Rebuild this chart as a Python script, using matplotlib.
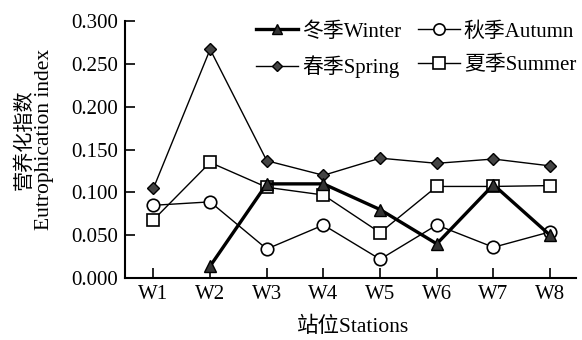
import numpy as np
import matplotlib
matplotlib.use('Agg')
import matplotlib.pyplot as plt

plt.rcParams['font.family'] = ['Liberation Serif', 'Noto Sans CJK SC']

# stations and eutrophication index per season
stations = ['W1', 'W2', 'W3', 'W4', 'W5', 'W6', 'W7', 'W8']
winter = [np.nan, 0.014, 0.110, 0.110, 0.080, 0.040, 0.109, 0.050]
autumn = [0.085, 0.089, 0.034, 0.062, 0.022, 0.062, 0.036, 0.054]
spring = [0.105, 0.267, 0.137, 0.120, 0.140, 0.134, 0.139, 0.131]
summer = [0.068, 0.135, 0.106, 0.097, 0.053, 0.107, 0.107, 0.108]

x = np.arange(1, len(stations) + 1)

fig = plt.figure(figsize=(5.82, 3.40), dpi=100)
ax = fig.add_axes([0.215, 0.182, 0.775, 0.756])

l1, = ax.plot(x, winter, color='black', lw=2.4, marker='^', ms=8,
              mfc='#333333', mec='black', label='冬季Winter', zorder=4)
l3, = ax.plot(x, autumn, color='black', lw=1.0, marker='o', ms=9,
              mfc='white', mec='black', mew=1.2, label='秋季Autumn', zorder=3)
l2, = ax.plot(x, spring, color='black', lw=1.0, marker='D', ms=6,
              mfc='#444444', mec='black', label='春季Spring', zorder=3)
l4, = ax.plot(x, summer, color='black', lw=1.0, marker='s', ms=9,
              mfc='white', mec='black', mew=1.2, label='夏季Summer', zorder=3)

ax.set_xlim(0.5, 8.46)
ax.set_ylim(0, 0.3)
ax.set_xticks(x)
ax.set_xticklabels(stations)
ax.set_yticks(np.arange(0, 0.301, 0.05))
ax.set_yticklabels(['%.3f' % v for v in np.arange(0, 0.301, 0.05)])
ax.tick_params(direction='in', length=7, width=1.2, labelsize=15, pad=5)

for s in ['top', 'right']:
    ax.spines[s].set_visible(False)
for s in ['left', 'bottom']:
    ax.spines[s].set_linewidth(1.5)

fig.text(0.607, 0.024, '站位Stations', fontsize=15.5, ha='center', va='baseline')
fig.text(0.043, 0.59, '营养化指数', rotation=90, fontsize=14.5, ha='center', va='center')
fig.text(0.077, 0.59, 'Eutrophication index', rotation=90, fontsize=15.5, ha='center', va='center')

ax.legend(handles=[l1, l2, l3, l4], ncol=2, loc='upper right',
          bbox_to_anchor=(0.99, 0.935), bbox_transform=fig.transFigure,
          frameon=False, fontsize=15, borderpad=0, borderaxespad=0,
          handlelength=2.0, columnspacing=0.8, handletextpad=0.2,
          labelspacing=0.65, markerscale=0.9)

fig.savefig('out.png', dpi=100)
